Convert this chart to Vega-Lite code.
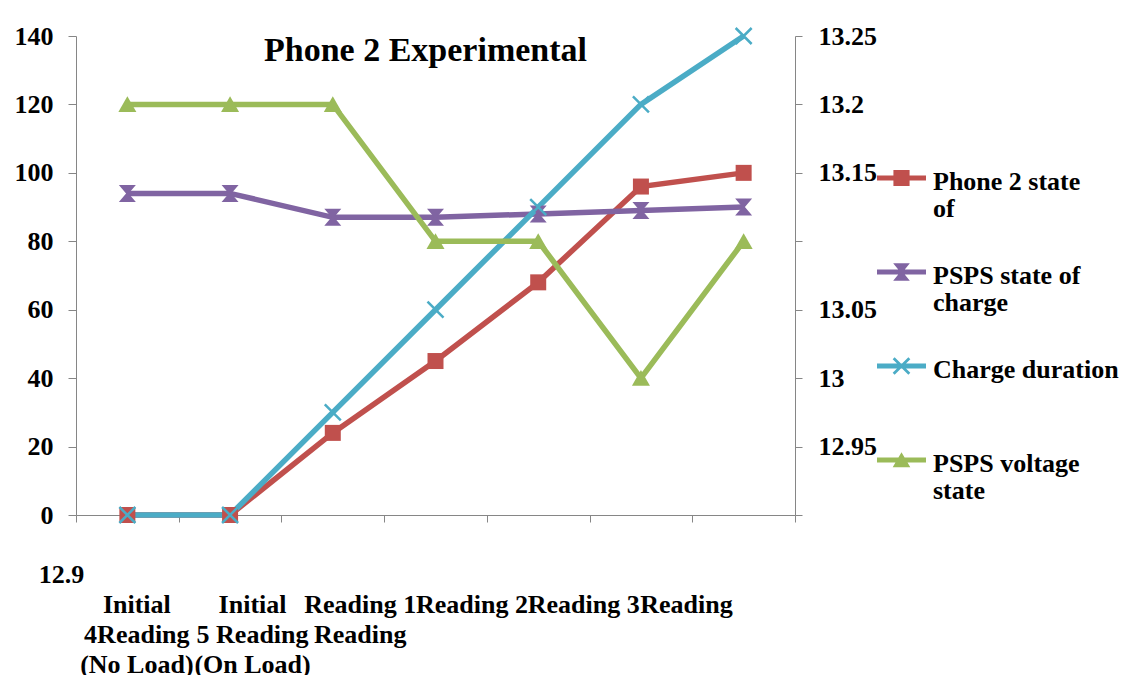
{
  "$schema": "https://vega.github.io/schema/vega-lite/v6.json",
  "width": 719,
  "height": 479,
  "autosize": {"type": "none"},
  "padding": {"left": 76, "top": 36, "right": 338, "bottom": 160},
  "background": "white",
  "config": {
    "font": "Liberation Serif",
    "view": {"stroke": null},
    "axis": {
      "labelFont": "Liberation Serif",
      "labelFontWeight": "bold",
      "labelFontSize": 26,
      "labelColor": "black",
      "domainColor": "#868686",
      "tickColor": "#868686",
      "grid": false,
      "labelOverlap": false,
      "titleFont": "Liberation Serif"
    }
  },
  "title": {
    "text": "Phone 2 Experimental",
    "font": "Liberation Serif",
    "fontSize": 34,
    "fontWeight": "bold",
    "color": "black",
    "anchor": "middle",
    "frame": "group",
    "baseline": "alphabetic",
    "offset": -37,
    "dy": 35,
    "dx": -10
  },
  "data": {
    "values": [
      {"stage": "Initial Reading (No Load)", "series": "Phone 2 state of charge", "value": 0},
      {"stage": "Initial Reading (On Load)", "series": "Phone 2 state of charge", "value": 0},
      {"stage": "Reading 1", "series": "Phone 2 state of charge", "value": 24},
      {"stage": "Reading 2", "series": "Phone 2 state of charge", "value": 45},
      {"stage": "Reading 3", "series": "Phone 2 state of charge", "value": 68},
      {"stage": "Reading 4", "series": "Phone 2 state of charge", "value": 96},
      {"stage": "Reading 5", "series": "Phone 2 state of charge", "value": 100},
      {"stage": "Initial Reading (No Load)", "series": "PSPS state of charge", "value": 94},
      {"stage": "Initial Reading (On Load)", "series": "PSPS state of charge", "value": 94},
      {"stage": "Reading 1", "series": "PSPS state of charge", "value": 87},
      {"stage": "Reading 2", "series": "PSPS state of charge", "value": 87},
      {"stage": "Reading 3", "series": "PSPS state of charge", "value": 88},
      {"stage": "Reading 4", "series": "PSPS state of charge", "value": 89},
      {"stage": "Reading 5", "series": "PSPS state of charge", "value": 90},
      {"stage": "Initial Reading (No Load)", "series": "Charge duration", "value": 0},
      {"stage": "Initial Reading (On Load)", "series": "Charge duration", "value": 0},
      {"stage": "Reading 1", "series": "Charge duration", "value": 30},
      {"stage": "Reading 2", "series": "Charge duration", "value": 60},
      {"stage": "Reading 3", "series": "Charge duration", "value": 90},
      {"stage": "Reading 4", "series": "Charge duration", "value": 120},
      {"stage": "Reading 5", "series": "Charge duration", "value": 140},
      {"stage": "Initial Reading (No Load)", "series": "PSPS voltage state", "value": 13.2},
      {"stage": "Initial Reading (On Load)", "series": "PSPS voltage state", "value": 13.2},
      {"stage": "Reading 1", "series": "PSPS voltage state", "value": 13.2},
      {"stage": "Reading 2", "series": "PSPS voltage state", "value": 13.1},
      {"stage": "Reading 3", "series": "PSPS voltage state", "value": 13.1},
      {"stage": "Reading 4", "series": "PSPS voltage state", "value": 13.0},
      {"stage": "Reading 5", "series": "PSPS voltage state", "value": 13.1}
    ]
  },
  "encoding": {
    "x": {
      "field": "stage",
      "type": "nominal",
      "sort": ["Initial Reading (No Load)", "Initial Reading (On Load)", "Reading 1", "Reading 2", "Reading 3", "Reading 4", "Reading 5"],
      "scale": {"type": "band", "paddingInner": 0, "paddingOuter": 0},
      "axis": {
        "title": "12.9",
        "titleFont": "Liberation Serif",
        "titleFontSize": 26,
        "titleFontWeight": "bold",
        "titleColor": "black",
        "titleAlign": "center",
        "titleBaseline": "middle",
        "titleAnchor": "start",
        "titleX": -15,
        "titleY": 59,
        "tickBand": "extent",
        "tickSize": 7,
        "labelAngle": 0,
        "labelPadding": 69,
        "labelBaseline": "top",
        "labelLineHeight": 30,
        "labelLimit": 0,
        "labelOffset": {
          "condition": [
            {"test": "datum.value == 'Initial Reading (No Load)'", "value": 9},
            {"test": "datum.value == 'Initial Reading (On Load)'", "value": 22},
            {"test": "datum.value == 'Reading 1'", "value": 27},
            {"test": "datum.value == 'Reading 2'", "value": 36}
          ],
          "value": 45
        },
        "labelExpr": "datum.value == 'Initial Reading (No Load)' ? ['Initial', '4Reading', '(No Load)'] : datum.value == 'Initial Reading (On Load)' ? ['Initial', '5 Reading', '(On Load)'] : datum.value == 'Reading 1' ? ['Reading 1', 'Reading'] : datum.value == 'Reading 4' ? 'Reading' : datum.value == 'Reading 5' ? '' : datum.label"
      }
    }
  },
  "layer": [
    {
      "transform": [{"filter": "datum.series != 'PSPS voltage state'"}],
      "encoding": {
        "y": {
          "field": "value",
          "type": "quantitative",
          "scale": {"domain": [0, 140], "nice": false, "zero": false},
          "axis": {
            "title": null,
            "values": [0, 20, 40, 60, 80, 100, 120, 140],
            "tickSize": 8,
            "labelPadding": 15
          }
        }
      },
      "layer": [
        {
          "mark": {"type": "line", "strokeWidth": 5.5},
          "encoding": {
            "color": {
              "field": "series",
              "type": "nominal",
              "scale": {
                "domain": ["Phone 2 state of charge", "PSPS state of charge", "Charge duration", "PSPS voltage state"],
                "range": ["#C0504D", "#8064A2", "#4BACC6", "#9BBB59"]
              },
              "legend": {
                "orient": "none",
                "legendX": 801,
                "legendY": 103,
                "title": null,
                "padding": 0,
                "symbolSize": 2401,
                "symbolStrokeWidth": 0,
                "labelFont": "Liberation Serif",
                "labelFontSize": 26,
                "labelFontWeight": "bold",
                "labelColor": "black",
                "labelOffset": 7,
                "labelBaseline": "top",
                "labelLimit": 300,
                "clipHeight": 78,
                "rowPadding": 11,
                "labelExpr": "datum.value == 'Phone 2 state of charge' ? ['Phone 2 state', 'of'] : datum.value == 'PSPS state of charge' ? ['PSPS state of', 'charge'] : datum.value == 'PSPS voltage state' ? ['PSPS voltage', 'state'] : ['Charge duration', '']",
                "encode": {
                  "symbols": {
                    "update": {
                      "shape": {"signal": "datum.value == 'Phone 2 state of charge' ? 'M-1,-0.1H1V0.1H-1Z M-0.33,-0.33H0.33V0.33H-0.33Z' : datum.value == 'PSPS state of charge' ? 'M-1,-0.1H1V0.1H-1Z M-0.34,-0.36H0.34L0.05,0L0.34,0.36H-0.34L-0.05,0Z' : datum.value == 'Charge duration' ? 'M-1,-0.1H1V0.1H-1Z M-0.36,-0.28L-0.28,-0.36L0.36,0.28L0.28,0.36Z M0.28,-0.36L0.36,-0.28L-0.28,0.36L-0.36,0.28Z' : 'M-1,-0.1H1V0.1H-1Z M0,-0.32L0.36,0.3H-0.36Z'"},
                      "fill": {"scale": "color", "field": "value"},
                      "stroke": {"value": "transparent"},
                      "opacity": {"value": 1}
                    }
                  },
                  "labels": {
                    "update": {
                      "dy": {"value": -9},
                      "lineHeight": {"value": 27}
                    }
                  }
                }
              }
            }
          }
        },
        {
          "transform": [{"filter": "datum.series == 'Phone 2 state of charge'"}],
          "mark": {"type": "point", "shape": "square", "filled": true, "size": 256, "opacity": 1},
          "encoding": {"color": {"field": "series", "type": "nominal"}}
        },
        {
          "transform": [{"filter": "datum.series == 'PSPS state of charge'"}],
          "mark": {"type": "point", "shape": "M-1,-1H1L0.15,0L1,1H-1L-0.15,0Z", "filled": true, "size": 289, "opacity": 1},
          "encoding": {"color": {"field": "series", "type": "nominal"}}
        },
        {
          "transform": [{"filter": "datum.series == 'Charge duration'"}],
          "mark": {"type": "point", "shape": "M-1,-1L1,1M-1,1L1,-1", "filled": false, "strokeWidth": 2.5, "size": 256, "opacity": 1},
          "encoding": {"color": {"field": "series", "type": "nominal"}}
        }
      ]
    },
    {
      "transform": [{"filter": "datum.series == 'PSPS voltage state'"}],
      "encoding": {
        "y": {
          "field": "value",
          "type": "quantitative",
          "scale": {"domain": [12.9, 13.25], "nice": false, "zero": false},
          "axis": {
            "orient": "right",
            "title": null,
            "values": [12.9, 12.95, 13, 13.05, 13.1, 13.15, 13.2, 13.25],
            "tickSize": 7,
            "labelPadding": 16,
            "labelExpr": "(abs(datum.value - 13.1) < 0.001 || datum.value < 12.92) ? '' : format(datum.value, '.2~f')"
          }
        }
      },
      "layer": [
        {
          "mark": {"type": "line", "strokeWidth": 5.5},
          "encoding": {"color": {"field": "series", "type": "nominal"}}
        },
        {
          "mark": {"type": "point", "shape": "M0,-0.9L1,0.85H-1Z", "filled": true, "size": 324, "opacity": 1},
          "encoding": {"color": {"field": "series", "type": "nominal"}}
        }
      ]
    }
  ],
  "resolve": {"scale": {"y": "independent"}}
}
